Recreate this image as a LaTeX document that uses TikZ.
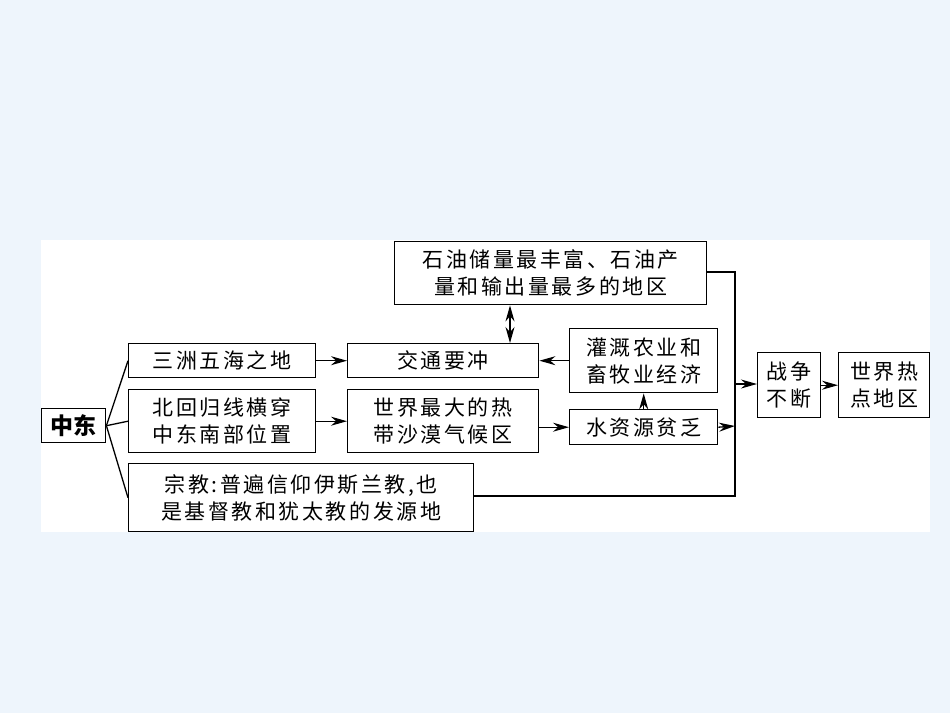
\documentclass[tikz,border=0pt]{standalone}
\usepackage{fontspec}
\setmainfont{Noto Sans CJK SC}[LetterSpace=12]
\newfontfamily\zdfont{Noto Sans CJK SC}[LetterSpace=0]
\usetikzlibrary{arrows.meta}
\definecolor{bgc}{HTML}{EEF5FC}
\begin{document}
\begin{tikzpicture}[x=1pt,y=-1pt,
  bx/.style={draw,line width=1.4pt,inner sep=0pt,anchor=north west,align=center,font=\fontsize{21}{27}\selectfont},
  ar/.style={-{Stealth[length=16pt,width=9pt]},line width=1.3pt},
  ln/.style={line width=1.3pt}]
\fill[bgc] (0,0) rectangle (950,713);
\useasboundingbox (0,0) rectangle (950,713);
\fill[white] (41,240) rectangle (930,532);
\node[bx,minimum width=64pt,minimum height=34pt,font=\fontsize{23}{26}\zdfont\bfseries] (zd) at (41,408) {中东};
\node[bx,minimum width=187pt,minimum height=34pt] (sz) at (128,343) {三洲五海之地};
\node[bx,minimum width=187pt,minimum height=63pt] (bh) at (128,389) {北回归线横穿\\中东南部位置};
\node[bx,minimum width=345pt,minimum height=68pt] (zj) at (128,463) {宗教:普遍信仰伊斯兰教,也\\是基督教和犹太教的发源地};
\node[bx,minimum width=191pt,minimum height=34pt] (jt) at (347,343) {交通要冲};
\node[bx,minimum width=191pt,minimum height=63pt] (sj) at (347,389) {世界最大的热\\带沙漠气候区};
\node[bx,minimum width=312pt,minimum height=63pt] (sy) at (394,241) {石油储量最丰富、石油产\\量和输出量最多的地区};
\node[bx,minimum width=148pt,minimum height=64pt] (gg) at (569,328) {灌溉农业和\\畜牧业经济};
\node[bx,minimum width=148pt,minimum height=35pt] (ss) at (569,409) {水资源贫乏};
\node[bx,minimum width=63pt,minimum height=65pt] (zz) at (757,352) {战争\\不断};
\node[bx,minimum width=91pt,minimum height=65pt] (rd) at (838,352) {世界热\\点地区};
\coordinate (t) at (735,272);
\coordinate (b) at (735,496);
\coordinate (m) at (735,384);
\coordinate (w) at (735,426);
\draw[ln] (zd.east) -- (sz.west);
\draw[ln] (zd.east) -- (bh.west);
\draw[ln] (zd.east) -- (zj.west);
\draw[ar] (sz) -- (jt);
\draw[ar] (bh) -- (sj);
\draw[ar] (sj.east|-ss.west) -- (ss.west);
\draw[ar] (gg.west|-jt.east) -- (jt.east);
\draw[ar] (ss.north) -- (gg.south);
\draw[{Stealth[length=16pt,width=9pt]}-{Stealth[length=16pt,width=9pt]},line width=1.3pt] (sy.south-|510,0) -- (jt.north-|510,0);
\draw[ln] (sy.east|-t) -- (t) -- (b) -- (zj.east|-b);
\draw[ar] (ss.east) -- (w);
\draw[ar] (m) -- (zz.west|-m);
\draw[ar] (zz) -- (rd);
\end{tikzpicture}
\end{document}
